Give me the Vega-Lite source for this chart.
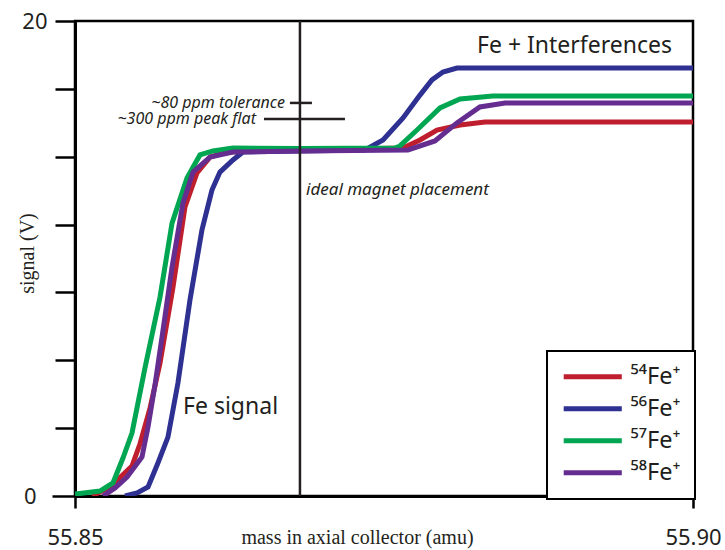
{
  "$schema": "https://vega.github.io/schema/vega-lite/v6.json",
  "width": 618,
  "height": 475,
  "autosize": {"type": "none"},
  "padding": {"left": 75, "top": 21, "right": 32, "bottom": 54},
  "background": "white",
  "config": {
    "view": {"stroke": "black", "strokeWidth": 2.5},
    "axis": {
      "domainColor": "black",
      "domainWidth": 3,
      "tickColor": "black",
      "tickWidth": 2.5,
      "grid": false,
      "labelColor": "#231f20",
      "titleColor": "#231f20",
      "labelFont": "Noto Sans",
      "titleFont": "Liberation Serif",
      "titleFontWeight": "normal"
    },
    "legend": {
      "orient": "none",
      "legendX": 472,
      "legendY": 330,
      "strokeColor": "black",
      "strokeWidth": 2,
      "fillColor": "white",
      "padding": 14,
      "symbolType": "M-5,0H5",
      "symbolSize": 135,
      "symbolStrokeWidth": 5,
      "symbolOffset": 20,
      "labelFont": "Noto Sans",
      "labelFontSize": 23.5,
      "labelColor": "#231f20",
      "labelOffset": 26,
      "rowPadding": 7
    }
  },
  "layer": [
    {
      "data": {
        "values": [
          {"iso": "⁵⁴Fe⁺", "mass": 55.85138, "signal": 0.0},
          {"iso": "⁵⁴Fe⁺", "mass": 55.85283, "signal": 0.38},
          {"iso": "⁵⁴Fe⁺", "mass": 55.85461, "signal": 1.26},
          {"iso": "⁵⁴Fe⁺", "mass": 55.85526, "signal": 2.2},
          {"iso": "⁵⁴Fe⁺", "mass": 55.85607, "signal": 3.7},
          {"iso": "⁵⁴Fe⁺", "mass": 55.85688, "signal": 5.6},
          {"iso": "⁵⁴Fe⁺", "mass": 55.85793, "signal": 8.8},
          {"iso": "⁵⁴Fe⁺", "mass": 55.8589, "signal": 12.17},
          {"iso": "⁵⁴Fe⁺", "mass": 55.85987, "signal": 13.6},
          {"iso": "⁵⁴Fe⁺", "mass": 55.86092, "signal": 14.27},
          {"iso": "⁵⁴Fe⁺", "mass": 55.8623, "signal": 14.48},
          {"iso": "⁵⁴Fe⁺", "mass": 55.8682, "signal": 14.57},
          {"iso": "⁵⁴Fe⁺", "mass": 55.87654, "signal": 14.65},
          {"iso": "⁵⁴Fe⁺", "mass": 55.87791, "signal": 14.99},
          {"iso": "⁵⁴Fe⁺", "mass": 55.87929, "signal": 15.41},
          {"iso": "⁵⁴Fe⁺", "mass": 55.88115, "signal": 15.62},
          {"iso": "⁵⁴Fe⁺", "mass": 55.88317, "signal": 15.75},
          {"iso": "⁵⁴Fe⁺", "mass": 55.9, "signal": 15.75},

          {"iso": "⁵⁶Fe⁺", "mass": 55.85405, "signal": 0.0},
          {"iso": "⁵⁶Fe⁺", "mass": 55.85502, "signal": 0.13},
          {"iso": "⁵⁶Fe⁺", "mass": 55.85591, "signal": 0.38},
          {"iso": "⁵⁶Fe⁺", "mass": 55.85671, "signal": 1.39},
          {"iso": "⁵⁶Fe⁺", "mass": 55.85752, "signal": 2.48},
          {"iso": "⁵⁶Fe⁺", "mass": 55.85833, "signal": 4.76},
          {"iso": "⁵⁶Fe⁺", "mass": 55.8593, "signal": 8.25},
          {"iso": "⁵⁶Fe⁺", "mass": 55.86027, "signal": 11.2},
          {"iso": "⁵⁶Fe⁺", "mass": 55.86108, "signal": 12.88},
          {"iso": "⁵⁶Fe⁺", "mass": 55.86173, "signal": 13.64},
          {"iso": "⁵⁶Fe⁺", "mass": 55.86278, "signal": 14.15},
          {"iso": "⁵⁶Fe⁺", "mass": 55.86359, "signal": 14.48},
          {"iso": "⁵⁶Fe⁺", "mass": 55.8682, "signal": 14.53},
          {"iso": "⁵⁶Fe⁺", "mass": 55.87346, "signal": 14.57},
          {"iso": "⁵⁶Fe⁺", "mass": 55.87492, "signal": 14.99},
          {"iso": "⁵⁶Fe⁺", "mass": 55.87654, "signal": 15.92},
          {"iso": "⁵⁶Fe⁺", "mass": 55.87791, "signal": 16.88},
          {"iso": "⁵⁶Fe⁺", "mass": 55.87888, "signal": 17.52},
          {"iso": "⁵⁶Fe⁺", "mass": 55.87977, "signal": 17.85},
          {"iso": "⁵⁶Fe⁺", "mass": 55.8809, "signal": 18.02},
          {"iso": "⁵⁶Fe⁺", "mass": 55.9, "signal": 18.02},

          {"iso": "⁵⁷Fe⁺", "mass": 55.85, "signal": 0.08},
          {"iso": "⁵⁷Fe⁺", "mass": 55.85202, "signal": 0.21},
          {"iso": "⁵⁷Fe⁺", "mass": 55.85307, "signal": 0.55},
          {"iso": "⁵⁷Fe⁺", "mass": 55.85388, "signal": 1.6},
          {"iso": "⁵⁷Fe⁺", "mass": 55.85461, "signal": 2.65},
          {"iso": "⁵⁷Fe⁺", "mass": 55.85566, "signal": 5.39},
          {"iso": "⁵⁷Fe⁺", "mass": 55.85688, "signal": 8.38},
          {"iso": "⁵⁷Fe⁺", "mass": 55.85785, "signal": 11.49},
          {"iso": "⁵⁷Fe⁺", "mass": 55.85906, "signal": 13.39},
          {"iso": "⁵⁷Fe⁺", "mass": 55.86011, "signal": 14.36},
          {"iso": "⁵⁷Fe⁺", "mass": 55.86116, "signal": 14.53},
          {"iso": "⁵⁷Fe⁺", "mass": 55.86278, "signal": 14.65},
          {"iso": "⁵⁷Fe⁺", "mass": 55.8682, "signal": 14.63},
          {"iso": "⁵⁷Fe⁺", "mass": 55.87589, "signal": 14.65},
          {"iso": "⁵⁷Fe⁺", "mass": 55.87629, "signal": 14.74},
          {"iso": "⁵⁷Fe⁺", "mass": 55.87767, "signal": 15.41},
          {"iso": "⁵⁷Fe⁺", "mass": 55.87953, "signal": 16.34},
          {"iso": "⁵⁷Fe⁺", "mass": 55.88115, "signal": 16.72},
          {"iso": "⁵⁷Fe⁺", "mass": 55.88382, "signal": 16.84},
          {"iso": "⁵⁷Fe⁺", "mass": 55.9, "signal": 16.84},

          {"iso": "⁵⁸Fe⁺", "mass": 55.85227, "signal": 0.0},
          {"iso": "⁵⁸Fe⁺", "mass": 55.85324, "signal": 0.34},
          {"iso": "⁵⁸Fe⁺", "mass": 55.85421, "signal": 0.8},
          {"iso": "⁵⁸Fe⁺", "mass": 55.85542, "signal": 1.64},
          {"iso": "⁵⁸Fe⁺", "mass": 55.85591, "signal": 2.91},
          {"iso": "⁵⁸Fe⁺", "mass": 55.85647, "signal": 4.67},
          {"iso": "⁵⁸Fe⁺", "mass": 55.85704, "signal": 6.69},
          {"iso": "⁵⁸Fe⁺", "mass": 55.85785, "signal": 9.64},
          {"iso": "⁵⁸Fe⁺", "mass": 55.85874, "signal": 12.34},
          {"iso": "⁵⁸Fe⁺", "mass": 55.85955, "signal": 13.64},
          {"iso": "⁵⁸Fe⁺", "mass": 55.86092, "signal": 14.27},
          {"iso": "⁵⁸Fe⁺", "mass": 55.86278, "signal": 14.48},
          {"iso": "⁵⁸Fe⁺", "mass": 55.8682, "signal": 14.53},
          {"iso": "⁵⁸Fe⁺", "mass": 55.87694, "signal": 14.57},
          {"iso": "⁵⁸Fe⁺", "mass": 55.87912, "signal": 14.95},
          {"iso": "⁵⁸Fe⁺", "mass": 55.8809, "signal": 15.71},
          {"iso": "⁵⁸Fe⁺", "mass": 55.88276, "signal": 16.38},
          {"iso": "⁵⁸Fe⁺", "mass": 55.88479, "signal": 16.55},
          {"iso": "⁵⁸Fe⁺", "mass": 55.9, "signal": 16.55}
        ]
      },
      "mark": {"type": "line", "strokeWidth": 5, "strokeJoin": "miter", "clip": true},
      "encoding": {
        "x": {
          "field": "mass",
          "type": "quantitative",
          "scale": {"domain": [55.85, 55.9], "zero": false, "nice": false},
          "axis": {
            "values": [55.85, 55.9],
            "format": ".2f",
            "labelFlush": false,
            "labelFontSize": 22,
            "labelBaseline": "alphabetic",
            "labelPadding": 36,
            "tickSize": 12,
            "title": "mass in axial collector (amu)",
            "titleFontSize": 20,
            "titleBaseline": "alphabetic",
            "titleAlign": "center",
            "titleX": 282,
            "titleY": 47
          }
        },
        "y": {
          "field": "signal",
          "type": "quantitative",
          "scale": {"domain": [0, 20], "nice": false},
          "axis": {
            "values": [0, 2.857142857, 5.714285714, 8.571428571, 11.42857143, 14.28571429, 17.14285714, 20],
            "labelExpr": "datum.value == 0 || datum.value == 20 ? format(datum.value, 'd') : ''",
            "labelFontSize": 22,
            "labelPadding": {"condition": {"test": "datum.value == 0", "value": 16}, "value": 8},
            "tickSize": {"condition": {"test": "datum.value == 0", "value": 23}, "value": 20},
            "title": "signal (V)",
            "titleFontSize": 20,
            "titleBaseline": "alphabetic",
            "titleAngle": -90,
            "titleAlign": "center",
            "titleX": -42,
            "titleY": 232
          }
        },
        "color": {
          "field": "iso",
          "type": "nominal",
          "scale": {
            "domain": ["⁵⁴Fe⁺", "⁵⁶Fe⁺", "⁵⁷Fe⁺", "⁵⁸Fe⁺"],
            "range": ["#BE1E2D", "#2E3192", "#00A651", "#662D91"]
          },
          "legend": {"title": null}
        }
      }
    },
    {
      "data": {"values": [{"mass": 55.8682, "signal": 0, "signal_top": 20}]},
      "mark": {"type": "rule", "color": "#231f20", "strokeWidth": 2.5},
      "encoding": {
        "x": {"field": "mass", "type": "quantitative"},
        "y": {"field": "signal", "type": "quantitative"},
        "y2": {"field": "signal_top"}
      }
    },
    {
      "data": {
        "values": [
          {"mass": 55.86739, "mass_end": 55.86917, "signal": 16.55},
          {"mass": 55.86529, "mass_end": 55.87184, "signal": 15.87}
        ]
      },
      "mark": {"type": "rule", "color": "#231f20", "strokeWidth": 2.5},
      "encoding": {
        "x": {"field": "mass", "type": "quantitative"},
        "x2": {"field": "mass_end"},
        "y": {"field": "signal", "type": "quantitative"}
      }
    },
    {
      "data": {
        "values": [
          {"mass": 55.86699, "signal": 16.55, "note": "~80 ppm tolerance"},
          {"mass": 55.86464, "signal": 15.87, "note": "~300 ppm peak flat"}
        ]
      },
      "mark": {"type": "text", "align": "right", "baseline": "middle", "font": "Noto Sans", "fontStyle": "italic", "fontSize": 16, "color": "#231f20"},
      "encoding": {
        "x": {"field": "mass", "type": "quantitative"},
        "y": {"field": "signal", "type": "quantitative"},
        "text": {"field": "note"}
      }
    },
    {
      "data": {"values": [{"mass": 55.86869, "signal": 12.9, "note": "ideal magnet placement"}]},
      "mark": {"type": "text", "align": "left", "baseline": "middle", "font": "Noto Sans", "fontStyle": "italic", "fontSize": 17, "color": "#231f20"},
      "encoding": {
        "x": {"field": "mass", "type": "quantitative"},
        "y": {"field": "signal", "type": "quantitative"},
        "text": {"field": "note"}
      }
    },
    {
      "data": {
        "values": [
          {"mass": 55.85874, "signal": 3.75, "note": "Fe signal", "side": "left"},
          {"mass": 55.8983, "signal": 18.95, "note": "Fe + Interferences", "side": "right"}
        ]
      },
      "mark": {"type": "text", "baseline": "middle", "font": "Noto Sans", "fontSize": 23, "color": "#231f20", "align": {"expr": "datum.side"}},
      "encoding": {
        "x": {"field": "mass", "type": "quantitative"},
        "y": {"field": "signal", "type": "quantitative"},
        "text": {"field": "note"}
      }
    }
  ]
}
